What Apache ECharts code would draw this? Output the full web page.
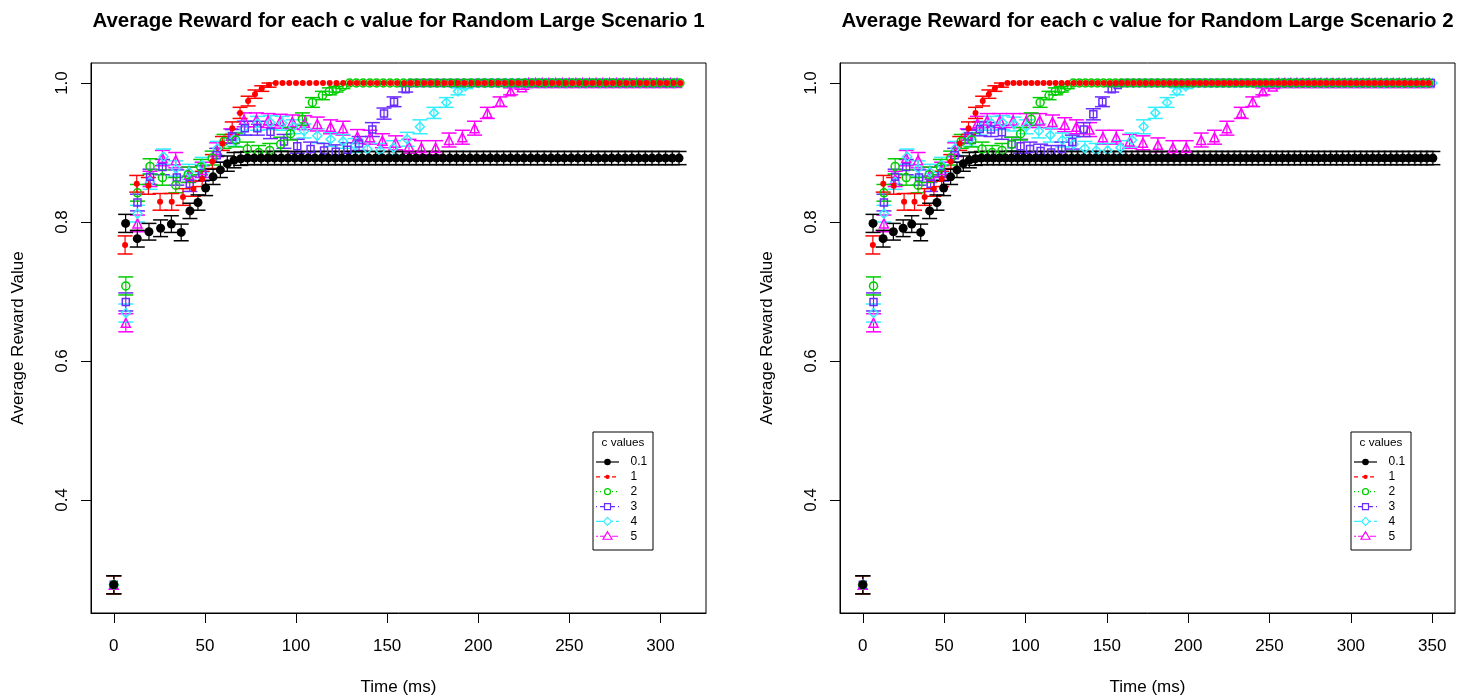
<!DOCTYPE html>
<html><head><meta charset="utf-8">
<script src="https://cdn.jsdelivr.net/npm/echarts@6/dist/echarts.min.js"></script>
<style>html,body{margin:0;padding:0;background:#fff}#c{width:1470px;height:700px}</style>
</head><body><div id="c"></div>
<script>
// ---------------- DATA ----------------
const cValues = ['0.1', '1', '2', '3', '4', '5'];
const titles = ['Average Reward for each c value for Random Large Scenario 1',
                'Average Reward for each c value for Random Large Scenario 2'];
const xAxisTitle = 'Time (ms)';
const yAxisTitle = 'Average Reward Value';
const legendTitle = 'c values';
const xTicks1 = [0, 50, 100, 150, 200, 250, 300];
const xTicks2 = [0, 50, 100, 150, 200, 250, 300, 350];
const yTicks = [0.4, 0.6, 0.8, 1.0];

// ===== Scenario 1 =====
// c = 0.1
const s1_c01_t = [0,6.5,12.9,19.3,25.7,31.6,37.0,41.8,46.2,50.4,
  54.5,58.5,62.3,66.0,69.7,73.4,77.1,80.8,84.5,88.2,
  91.9,95.6,99.3,103.0,106.7,110.4,114.1,117.8,121.5,125.2,
  128.9,132.6,136.3,140.0,143.7,147.4,151.1,154.8,158.5,162.2,
  165.9,169.6,173.3,177.0,180.7,184.4,188.1,191.8,195.5,199.2,
  202.9,206.6,210.3,214.0,217.7,221.4,225.1,228.8,232.5,236.2,
  239.9,243.6,247.3,251.0,254.7,258.4,262.1,265.8,269.5,273.2,
  276.9,280.6,284.3,288.0,291.7,295.4,299.1,302.8,306.5,310.2];
const s1_c01 = [0.278,0.798,0.776,0.786,0.791,0.797,0.785,0.816,0.828,0.849,
  0.865,0.875,0.884,0.889,0.891,0.892,0.892,0.892,0.892,0.892,
  0.892,0.892,0.892,0.892,0.892,0.892,0.892,0.892,0.892,0.892,
  0.892,0.892,0.892,0.892,0.892,0.892,0.892,0.892,0.892,0.892,
  0.892,0.892,0.892,0.892,0.892,0.892,0.892,0.892,0.892,0.892,
  0.892,0.892,0.892,0.892,0.892,0.892,0.892,0.892,0.892,0.892,
  0.892,0.892,0.892,0.892,0.892,0.892,0.892,0.892,0.892,0.892,
  0.892,0.892,0.892,0.892,0.892,0.892,0.892,0.892,0.892,0.892];
const s1_c01_err = [0.013,0.013,0.012,0.012,0.012,0.012,0.012,0.011,0.011,0.011,
  0.011,0.011,0.011,0.011,0.0095,0.0095,0.0095,0.0095,0.0095,0.0095,
  0.0095,0.0095,0.0095,0.0095,0.0095,0.0095,0.0095,0.0095,0.0095,0.0095,
  0.0095,0.0095,0.0095,0.0095,0.0095,0.0095,0.0095,0.0095,0.0095,0.0095,
  0.0095,0.0095,0.0095,0.0095,0.0095,0.0095,0.0095,0.0095,0.0095,0.0095,
  0.0095,0.0095,0.0095,0.0095,0.0095,0.0095,0.0095,0.0095,0.0095,0.0095,
  0.0095,0.0095,0.0095,0.0095,0.0095,0.0095,0.0095,0.0095,0.0095,0.0095,
  0.0095,0.0095,0.0095,0.0095,0.0095,0.0095,0.0095,0.0095,0.0095,0.0095];
// c = 1
const s1_c1_t = [0,6.2,12.6,19.0,25.4,31.8,38.0,43.7,48.5,54.1,
  59.6,65.0,69.3,73.7,77.5,81.2,85.2,88.9,92.6,96.3,
  100.0,103.7,107.4,111.1,114.8,118.5,122.2,125.9,129.6,133.3,
  137.0,140.7,144.4,148.1,151.8,155.5,159.2,162.9,166.6,170.3,
  174.0,177.7,181.4,185.1,188.8,192.5,196.2,199.9,203.6,207.3,
  211.0,214.7,218.4,222.1,225.8,229.5,233.2,236.9,240.6,244.3,
  248.0,251.7,255.4,259.1,262.8,266.5,270.2,273.9,277.6,281.3,
  285.0,288.7,292.4,296.1,299.8,303.5,307.2,310.9];
const s1_c1 = [0.278,0.767,0.855,0.852,0.829,0.829,0.836,0.848,0.862,0.887,
  0.913,0.935,0.957,0.974,0.984,0.992,0.997,1,1,1,
  1,1,1,1,1,1,1,1,1,1, 1,1,1,1,1,1,1,1,1,1, 1,1,1,1,1,1,1,1,1,1,
  1,1,1,1,1,1,1,1,1,1, 1,1,1,1,1,1,1,1,1,1,
  1,1,1,1,1,1,1,1];
const s1_c1_err = [0.013,0.013,0.012,0.012,0.012,0.012,0.012,0.011,0.011,0.010,
  0.010,0.009,0.008,0.007,0.006,0.004,0.003];
// c = 2
const s1_c2_t = [0,6.6,13.0,19.9,26.7,34.0,40.8,47.7,54.0,60.5,
  67.0,73.3,79.5,85.6,91.6,97.0,103.5,109.0,114.5,118.3,
  122.0,125.7,129.4,133.1,136.8,140.5,144.2,147.9,151.6,155.3,
  159.0,162.7,166.4,170.1,173.8,177.5,181.2,184.9,188.6,192.3,
  196.0,199.7,203.4,207.1,210.8,214.5,218.2,221.9,225.6,229.3,
  233.0,236.7,240.4,244.1,247.8,251.5,255.2,258.9,262.6,266.3,
  270.0,273.7,277.4,281.1,284.8,288.5,292.2,295.9,299.6,303.3,
  307.0,310.7];
const s1_c2 = [0.278,0.708,0.842,0.880,0.864,0.853,0.868,0.879,0.892,0.916,
  0.918,0.905,0.900,0.903,0.912,0.927,0.948,0.972,0.982,0.988,
  0.991,0.995,1,1,1,1,1,1,1,1,
  1,1,1,1,1,1,1,1,1,1, 1,1,1,1,1,1,1,1,1,1, 1,1,1,1,1,1,1,1,1,1,
  1,1,1,1,1,1,1,1,1,1, 1,1];
const s1_c2_err = [0.013,0.013,0.012,0.011,0.011,0.011,0.011,0.011,0.010,0.010,
  0.010,0.010,0.010,0.010,0.010,0.009,0.009,0.007,0.006,0.005,
  0.004,0.003];
// c = 3
const s1_c3_t = [0,6.6,13.0,19.9,26.7,34.6,41.7,48.6,56.5,65.0,
  71.9,78.8,86.0,93.4,100.7,108.0,115.4,121.8,128.2,134.6,
  141.9,148.3,153.8,160.2,163.9,167.6,171.3,175.0,178.7,182.4,
  186.1,189.8,193.5,197.2,200.9,204.6,208.3,212.0,215.7,219.4,
  223.1,226.8,230.5,234.2,237.9,241.6,245.3,249.0,252.7,256.4,
  260.1,263.8,267.5,271.2,274.9,278.6,282.3,286.0,289.7,293.4,
  297.1,300.8,304.5,308.2];
const s1_c3 = [0.278,0.685,0.828,0.865,0.879,0.864,0.855,0.870,0.896,0.923,
  0.935,0.935,0.930,0.916,0.909,0.905,0.903,0.901,0.904,0.913,
  0.933,0.956,0.973,0.991,1,1,1,1,1,1,
  1,1,1,1,1,1,1,1,1,1, 1,1,1,1,1,1,1,1,1,1, 1,1,1,1,1,1,1,1,1,1,
  1,1,1,1];
const s1_c3_err = [0.013,0.013,0.012,0.011,0.011,0.011,0.011,0.011,0.010,0.010,
  0.010,0.010,0.010,0.010,0.010,0.010,0.010,0.010,0.010,0.010,
  0.010,0.008,0.007,0.004];
// c = 4
const s1_c4_t = [0,6.6,13.0,19.9,27.3,34.0,41.3,48.5,56.9,66.0,
  71.5,78.8,86.0,92.5,98.5,104.4,111.7,119.0,125.8,132.4,
  139.2,146.2,153.5,161.0,168.0,175.7,182.5,188.9,193.0,196.7,
  200.4,204.1,207.8,211.5,215.2,218.9,222.6,226.3,230.0,233.7,
  237.4,241.1,244.8,248.5,252.2,255.9,259.6,263.3,267.0,270.7,
  274.4,278.1,281.8,285.5,289.2,292.9,296.6,300.3,304.0,307.7];
const s1_c4 = [0.278,0.669,0.812,0.858,0.894,0.877,0.872,0.882,0.906,0.919,
  0.935,0.942,0.943,0.942,0.937,0.931,0.924,0.919,0.916,0.910,
  0.905,0.903,0.907,0.919,0.937,0.957,0.972,0.988,0.995,0.999,
  1,1,1,1,1,1,1,1,1,1, 1,1,1,1,1,1,1,1,1,1, 1,1,1,1,1,1,1,1,1,1];
const s1_c4_err = [0.013,0.013,0.012,0.011,0.011,0.011,0.011,0.011,0.010,0.010,
  0.010,0.010,0.010,0.010,0.010,0.010,0.010,0.010,0.010,0.010,
  0.010,0.010,0.010,0.010,0.010,0.008,0.007,0.005,0.003,0.001];
// c = 5
const s1_c5_t = [0,6.6,13.0,19.9,26.7,34.0,41.3,48.5,56.5,64.2,
  71.5,78.3,84.7,91.4,98.0,104.8,111.7,119.0,125.8,133.7,
  140.6,147.4,154.7,162.0,168.8,176.6,184.0,191.3,198.0,205.0,
  212.0,217.8,224.0,227.7,231.4,235.1,238.8,242.5,246.2,249.9,
  253.6,257.3,261.0,264.7,268.4,272.1,275.8,279.5,283.2,286.9,
  290.6,294.3,298.0,301.7,305.4,309.1];
const s1_c5 = [0.278,0.655,0.798,0.862,0.892,0.889,0.868,0.875,0.904,0.924,
  0.947,0.947,0.946,0.945,0.944,0.943,0.941,0.937,0.935,0.923,
  0.922,0.917,0.914,0.909,0.907,0.907,0.918,0.922,0.935,0.957,
  0.973,0.988,0.994,1,1,1,1,1,1,1,
  1,1,1,1,1,1,1,1,1,1, 1,1,1,1,1,1];
const s1_c5_err = [0.013,0.013,0.012,0.011,0.011,0.011,0.011,0.011,0.010,0.010,
  0.010,0.010,0.010,0.010,0.010,0.010,0.010,0.010,0.010,0.010,
  0.010,0.010,0.010,0.010,0.010,0.010,0.010,0.010,0.010,0.008,
  0.007,0.005,0.003];

// ===== Scenario 2 =====
// c = 0.1
const s2_c01_t = [0,6.3,12.5,18.8,24.8,30.1,35.6,41.1,45.6,49.7,
  54.0,57.9,61.8,65.5,69.2,72.9,76.6,80.3,84.0,87.7,
  91.4,95.1,98.8,102.5,106.2,109.9,113.6,117.3,121.0,124.7,
  128.4,132.1,135.8,139.5,143.2,146.9,150.6,154.3,158.0,161.7,
  165.4,169.1,172.8,176.5,180.2,183.9,187.6,191.3,195.0,198.7,
  202.4,206.1,209.8,213.5,217.2,220.9,224.6,228.3,232.0,235.7,
  239.4,243.1,246.8,250.5,254.2,257.9,261.6,265.3,269.0,272.7,
  276.4,280.1,283.8,287.5,291.2,294.9,298.6,302.3,306.0,309.7,
  313.4,317.1,320.8,324.5,328.2,331.9,335.6,339.3,343.0,346.7,
  350.4];
const s2_c01 = [0.278,0.798,0.776,0.786,0.791,0.797,0.785,0.816,0.828,0.849,
  0.865,0.875,0.884,0.889,0.891,0.892,0.892,0.892,0.892,0.892,
  0.892,0.892,0.892,0.892,0.892,0.892,0.892,0.892,0.892,0.892,
  0.892,0.892,0.892,0.892,0.892,0.892,0.892,0.892,0.892,0.892,
  0.892,0.892,0.892,0.892,0.892,0.892,0.892,0.892,0.892,0.892,
  0.892,0.892,0.892,0.892,0.892,0.892,0.892,0.892,0.892,0.892,
  0.892,0.892,0.892,0.892,0.892,0.892,0.892,0.892,0.892,0.892,
  0.892,0.892,0.892,0.892,0.892,0.892,0.892,0.892,0.892,0.892,
  0.892,0.892,0.892,0.892,0.892,0.892,0.892,0.892,0.892,0.892,
  0.892];
const s2_c01_err = [0.013,0.013,0.012,0.012,0.012,0.012,0.012,0.011,0.011,0.011,
  0.011,0.011,0.011,0.011,0.0095,0.0095,0.0095,0.0095,0.0095,0.0095,
  0.0095,0.0095,0.0095,0.0095,0.0095,0.0095,0.0095,0.0095,0.0095,0.0095,
  0.0095,0.0095,0.0095,0.0095,0.0095,0.0095,0.0095,0.0095,0.0095,0.0095,
  0.0095,0.0095,0.0095,0.0095,0.0095,0.0095,0.0095,0.0095,0.0095,0.0095,
  0.0095,0.0095,0.0095,0.0095,0.0095,0.0095,0.0095,0.0095,0.0095,0.0095,
  0.0095,0.0095,0.0095,0.0095,0.0095,0.0095,0.0095,0.0095,0.0095,0.0095,
  0.0095,0.0095,0.0095,0.0095,0.0095,0.0095,0.0095,0.0095,0.0095,0.0095,
  0.0095,0.0095,0.0095,0.0095,0.0095,0.0095,0.0095,0.0095,0.0095,0.0095,
  0.0095];
// c = 1
const s2_c1_t = [0,6.2,12.6,19.0,25.4,31.8,38.0,43.7,48.5,54.1,
  59.6,65.0,69.3,73.7,77.5,81.2,85.2,88.9,92.6,96.3,
  100.0,103.7,107.4,111.1,114.8,118.5,122.2,125.9,129.6,133.3,
  137.0,140.7,144.4,148.1,151.8,155.5,159.2,162.9,166.6,170.3,
  174.0,177.7,181.4,185.1,188.8,192.5,196.2,199.9,203.6,207.3,
  211.0,214.7,218.4,222.1,225.8,229.5,233.2,236.9,240.6,244.3,
  248.0,251.7,255.4,259.1,262.8,266.5,270.2,273.9,277.6,281.3,
  285.0,288.7,292.4,296.1,299.8,303.5,307.2,310.9,314.6,318.3,
  322.0,325.7,329.4,333.1,336.8,340.5,344.2,347.9];
const s2_c1 = [0.278,0.767,0.855,0.852,0.829,0.829,0.836,0.848,0.862,0.887,
  0.913,0.935,0.957,0.974,0.984,0.992,0.997,1,1,1,
  1,1,1,1,1,1,1,1,1,1, 1,1,1,1,1,1,1,1,1,1, 1,1,1,1,1,1,1,1,1,1,
  1,1,1,1,1,1,1,1,1,1, 1,1,1,1,1,1,1,1,1,1, 1,1,1,1,1,1,1,1,1,1,
  1,1,1,1,1,1,1,1];
const s2_c1_err = [0.013,0.013,0.012,0.012,0.012,0.012,0.012,0.011,0.011,0.010,
  0.010,0.009,0.008,0.007,0.006,0.004,0.003];
// c = 2
const s2_c2_t = [0,6.6,13.0,19.9,26.7,34.0,40.8,47.7,54.0,60.5,
  67.0,73.3,79.5,85.6,91.6,97.0,103.5,109.0,114.5,118.3,
  122.0,125.7,129.4,133.1,136.8,140.5,144.2,147.9,151.6,155.3,
  159.0,162.7,166.4,170.1,173.8,177.5,181.2,184.9,188.6,192.3,
  196.0,199.7,203.4,207.1,210.8,214.5,218.2,221.9,225.6,229.3,
  233.0,236.7,240.4,244.1,247.8,251.5,255.2,258.9,262.6,266.3,
  270.0,273.7,277.4,281.1,284.8,288.5,292.2,295.9,299.6,303.3,
  307.0,310.7,314.4,318.1,321.8,325.5,329.2,332.9,336.6,340.3,
  344.0,347.7];
const s2_c2 = [0.278,0.708,0.842,0.880,0.864,0.853,0.868,0.879,0.892,0.916,
  0.918,0.905,0.900,0.903,0.912,0.927,0.948,0.972,0.982,0.988,
  0.991,0.995,1,1,1,1,1,1,1,1,
  1,1,1,1,1,1,1,1,1,1, 1,1,1,1,1,1,1,1,1,1, 1,1,1,1,1,1,1,1,1,1,
  1,1,1,1,1,1,1,1,1,1, 1,1,1,1,1,1,1,1,1,1, 1,1];
const s2_c2_err = [0.013,0.013,0.012,0.011,0.011,0.011,0.011,0.011,0.010,0.010,
  0.010,0.010,0.010,0.010,0.010,0.009,0.009,0.007,0.006,0.005,
  0.004,0.003];
// c = 3
const s2_c3_t = [0,6.6,13.0,19.9,26.7,34.6,41.7,48.6,56.5,65.0,
  71.9,78.8,85.5,91.5,97.0,102.8,109.3,115.8,122.3,128.8,
  135.8,141.7,147.3,153.0,156.7,160.4,164.1,167.8,171.5,175.2,
  178.9,182.6,186.3,190.0,193.7,197.4,201.1,204.8,208.5,212.2,
  215.9,219.6,223.3,227.0,230.7,234.4,238.1,241.8,245.5,249.2,
  252.9,256.6,260.3,264.0,267.7,271.4,275.1,278.8,282.5,286.2,
  289.9,293.6,297.3,301.0,304.7,308.4,312.1,315.8,319.5,323.2,
  326.9,330.6,334.3,338.0,341.7,345.4,349.1];
const s2_c3 = [0.278,0.685,0.828,0.865,0.879,0.864,0.855,0.870,0.896,0.923,
  0.934,0.933,0.929,0.912,0.909,0.905,0.902,0.900,0.905,0.915,
  0.933,0.955,0.973,0.991,0.997,1,1,1,1,1,
  1,1,1,1,1,1,1,1,1,1, 1,1,1,1,1,1,1,1,1,1, 1,1,1,1,1,1,1,1,1,1,
  1,1,1,1,1,1,1,1,1,1, 1,1,1,1,1,1,1];
const s2_c3_err = [0.013,0.013,0.012,0.011,0.011,0.011,0.011,0.011,0.010,0.010,
  0.010,0.010,0.010,0.010,0.010,0.010,0.010,0.010,0.010,0.010,
  0.010,0.008,0.007,0.004,0.002];
// c = 4
const s2_c4_t = [0,6.6,13.0,19.9,27.3,34.0,41.3,48.5,56.9,66.0,
  72.5,79.0,86.0,93.0,100.5,108.2,115.3,122.7,129.5,136.5,
  143.5,150.5,158.3,165.5,172.6,179.8,187.0,193.1,198.5,202.2,
  205.9,209.6,213.3,217.0,220.7,224.4,228.1,231.8,235.5,239.2,
  242.9,246.6,250.3,254.0,257.7,261.4,265.1,268.8,272.5,276.2,
  279.9,283.6,287.3,291.0,294.7,298.4,302.1,305.8,309.5,313.2,
  316.9,320.6,324.3,328.0,331.7,335.4,339.1,342.8,346.5,350.2];
const s2_c4 = [0.278,0.669,0.812,0.858,0.894,0.877,0.872,0.882,0.906,0.919,
  0.935,0.942,0.943,0.941,0.937,0.931,0.925,0.918,0.912,0.906,
  0.903,0.903,0.907,0.918,0.937,0.957,0.972,0.988,0.995,1,
  1,1,1,1,1,1,1,1,1,1, 1,1,1,1,1,1,1,1,1,1, 1,1,1,1,1,1,1,1,1,1,
  1,1,1,1,1,1,1,1,1,1];
const s2_c4_err = [0.013,0.013,0.012,0.011,0.011,0.011,0.011,0.011,0.010,0.010,
  0.010,0.010,0.010,0.010,0.010,0.010,0.010,0.010,0.010,0.010,
  0.010,0.010,0.010,0.010,0.010,0.008,0.007,0.005,0.003];
// c = 5
const s2_c5_t = [0,6.6,13.0,19.9,26.7,34.0,41.3,48.5,56.5,64.2,
  70.5,76.5,84.3,92.4,100.6,108.8,116.6,124.1,131.3,139.4,
  147.6,155.8,164.0,172.2,181.4,190.6,198.8,208.0,216.2,223.8,
  232.6,239.7,245.9,252.0,255.7,259.4,263.1,266.8,270.5,274.2,
  277.9,281.6,285.3,289.0,292.7,296.4,300.1,303.8,307.5,311.2,
  314.9,318.6,322.3,326.0,329.7,333.4,337.1,340.8,344.5,348.2];
const s2_c5 = [0.278,0.655,0.798,0.862,0.892,0.889,0.868,0.875,0.904,0.924,
  0.942,0.946,0.946,0.946,0.946,0.946,0.944,0.940,0.937,0.933,
  0.922,0.922,0.916,0.914,0.911,0.907,0.907,0.918,0.922,0.935,
  0.957,0.973,0.988,0.995,1,1,1,1,1,1,
  1,1,1,1,1,1,1,1,1,1, 1,1,1,1,1,1,1,1,1,1];
const s2_c5_err = [0.013,0.013,0.012,0.011,0.011,0.011,0.011,0.011,0.010,0.010,
  0.010,0.010,0.010,0.010,0.010,0.010,0.010,0.010,0.010,0.010,
  0.010,0.010,0.010,0.010,0.010,0.010,0.010,0.010,0.010,0.010,
  0.008,0.007,0.005,0.003];

// ---------------- STYLE ----------------
const FONT = '"Liberation Sans", Arial, Helvetica, sans-serif';
const styles = [
  {color: '#000000', symbol: 'circle', size: 9, filled: true, dash: null},
  {color: '#FF0000', symbol: 'circle', size: 6, filled: true, dash: [4, 4]},
  {color: '#00CD00', symbol: 'circle', size: 8, filled: false, dash: [1, 3]},
  {color: '#6A2BFF', symbol: 'rect', size: 7, filled: false, dash: [1, 3, 4, 3]},
  {color: '#33EEFF', symbol: 'diamond', size: 9, filled: false, dash: [7, 3]},
  {color: '#FF00FF', symbol: 'triangle', size: 9, filled: false, dash: [2, 2, 6, 2]}
];

const panels = [
  {times: [s1_c01_t, s1_c1_t, s1_c2_t, s1_c3_t, s1_c4_t, s1_c5_t],
   vals: [s1_c01, s1_c1, s1_c2, s1_c3, s1_c4, s1_c5],
   errs: [s1_c01_err, s1_c1_err, s1_c2_err, s1_c3_err, s1_c4_err, s1_c5_err],
   xTicks: xTicks1, title: titles[0],
   grid: {left: 91, top: 63, width: 615, height: 550}, xMin: -12.5, xMax: 325, legendAt: [593, 432]},
  {times: [s2_c01_t, s2_c1_t, s2_c2_t, s2_c3_t, s2_c4_t, s2_c5_t],
   vals: [s2_c01, s2_c1, s2_c2, s2_c3, s2_c4, s2_c5],
   errs: [s2_c01_err, s2_c1_err, s2_c2_err, s2_c3_err, s2_c4_err, s2_c5_err],
   xTicks: xTicks2, title: titles[1],
   grid: {left: 840, top: 63, width: 615, height: 550}, xMin: -14, xMax: 364, legendAt: [1351, 432]}
];
const yMin = 0.2374, yMax = 1.0288;

function errRender(color) {
  return function (params, api) {
    const t = api.value(0), v = api.value(1), e = api.value(2);
    if (!(e > 0)) return null;
    const top = api.coord([t, v + e]), bot = api.coord([t, v - e]);
    const hw = 7.5;
    return {type: 'group', children: [
      {type: 'line', shape: {x1: top[0], y1: top[1], x2: bot[0], y2: bot[1]}, style: {stroke: color, lineWidth: 1.2}},
      {type: 'line', shape: {x1: top[0] - hw, y1: top[1], x2: top[0] + hw, y2: top[1]}, style: {stroke: color, lineWidth: 1.5}},
      {type: 'line', shape: {x1: bot[0] - hw, y1: bot[1], x2: bot[0] + hw, y2: bot[1]}, style: {stroke: color, lineWidth: 1.5}}
    ]};
  };
}

// y-axis tick marks drawn through the panel's own scale (outside the plot box)
function yTickRender(params, api) {
  const pt = api.coord([api.value(0), api.value(1)]);
  const y = Math.round(pt[1]) + 0.5;
  return {type: 'line', shape: {x1: pt[0] - 10, y1: y, x2: pt[0], y2: y},
          style: {stroke: '#000', lineWidth: 1}};
}

const grids = [], xAxes = [], yAxes = [], series = [], graphics = [];
panels.forEach((p, pi) => {
  grids.push(Object.assign({show: true, borderColor: '#000', borderWidth: 1, backgroundColor: 'transparent',
    containLabel: false, outerBoundsMode: 'none'}, p.grid));
  xAxes.push({
    gridIndex: pi, type: 'value', min: p.xMin, max: p.xMax,
    axisLine: {show: true, onZero: false, lineStyle: {color: '#000', width: 1}}, splitLine: {show: false},
    axisTick: {show: true, customValues: p.xTicks, length: 10, lineStyle: {color: '#000', width: 1}},
    axisLabel: {customValues: p.xTicks, fontSize: 17, color: '#000', fontFamily: FONT, margin: 25},
    name: xAxisTitle, nameLocation: 'middle', nameGap: 66,
    nameTextStyle: {fontSize: 17, color: '#000', fontFamily: FONT}
  });
  yAxes.push({
    gridIndex: pi, type: 'value', min: yMin, max: yMax,
    axisLine: {show: true, onZero: false, lineStyle: {color: '#000', width: 1}}, splitLine: {show: false},
    axisTick: {show: true, customValues: yTicks, length: 10, lineStyle: {color: '#000', width: 1}},
    axisLabel: {customValues: yTicks, rotate: 90, fontSize: 17, color: '#000', fontFamily: FONT, margin: 20,
                formatter: v => Number(v).toFixed(1)},
    name: yAxisTitle, nameLocation: 'middle', nameGap: 64, nameRotate: 90,
    nameTextStyle: {fontSize: 17, color: '#000', fontFamily: FONT}
  });
  series.push({
    type: 'custom', xAxisIndex: pi, yAxisIndex: pi, name: 'yticks', clip: false, silent: true, z: 5,
    renderItem: yTickRender, encode: {x: 0, y: 1},
    data: yTicks.map(v => [p.xMin, v])
  });
  // draw order: 5, 4, 3, 2, 1, 0.1 (black on top)
  for (let k = cValues.length - 1; k >= 0; k--) {
    const st = styles[k];
    const ts = p.times[k], vals = p.vals[k], errs = p.errs[k];
    series.push({
      type: 'custom', xAxisIndex: pi, yAxisIndex: pi, name: cValues[k],
      renderItem: errRender(st.color), clip: true,
      encode: {x: 0, y: 1},
      data: ts.map((t, i) => [t, vals[i], errs[i] !== undefined ? errs[i] : 0])
    });
    series.push({
      type: 'scatter', xAxisIndex: pi, yAxisIndex: pi, name: cValues[k],
      symbol: st.symbol, symbolSize: st.size,
      itemStyle: st.filled ? {color: st.color, opacity: 1}
                           : {color: 'rgba(0,0,0,0)', borderColor: st.color, borderWidth: 1.5, opacity: 1},
      data: ts.map((t, i) => [t, vals[i]])
    });
  }
  graphics.push({type: 'text', x: p.grid.left + p.grid.width / 2, y: 21,
    style: {text: p.title, fill: '#000', font: 'bold 20.5px ' + FONT, textAlign: 'center', textVerticalAlign: 'middle'}});
  const [lx, ly] = p.legendAt;
  const children = [];
  children.push({type: 'rect', shape: {x: 0, y: 0, width: 60, height: 118}, style: {fill: '#fff', stroke: '#000', lineWidth: 1}});
  children.push({type: 'text', x: 30, y: 11, style: {text: legendTitle, fill: '#000', font: '11.7px ' + FONT, textAlign: 'center', textVerticalAlign: 'middle'}});
  cValues.forEach((lab, i) => {
    const st = styles[i];
    const yy = 30 + i * 14.85;
    children.push({type: 'line', shape: {x1: 3, y1: yy, x2: 26, y2: yy},
      style: {stroke: st.color, lineWidth: 1.2, lineDash: st.dash || null}});
    const cx = 14.5;
    const sty = st.filled ? {fill: st.color} : {fill: '#fff', stroke: st.color, lineWidth: 1.2};
    if (st.symbol === 'circle') children.push({type: 'circle', shape: {cx: cx, cy: yy, r: i === 0 ? 3.3 : (i === 1 ? 2.2 : 3)}, style: sty});
    else if (st.symbol === 'rect') children.push({type: 'rect', shape: {x: cx - 3, y: yy - 3, width: 6, height: 6}, style: sty});
    else if (st.symbol === 'diamond') children.push({type: 'polygon', shape: {points: [[cx, yy - 4], [cx + 4, yy], [cx, yy + 4], [cx - 4, yy]]}, style: sty});
    else children.push({type: 'polygon', shape: {points: [[cx, yy - 4.5], [cx + 4.5, yy + 3], [cx - 4.5, yy + 3]]}, style: sty});
    children.push({type: 'text', x: 37.5, y: yy, style: {text: lab, fill: '#000', font: '12px ' + FONT, textAlign: 'left', textVerticalAlign: 'middle'}});
  });
  graphics.push({type: 'group', x: lx, y: ly, z: 100, children: children});
});

const chart = echarts.init(document.getElementById('c'), null, {renderer: 'canvas'});
chart.setOption({
  animation: false,
  backgroundColor: '#fff',
  textStyle: {fontFamily: FONT},
  grid: grids, xAxis: xAxes, yAxis: yAxes, series: series, graphic: graphics
});
</script></body></html>
